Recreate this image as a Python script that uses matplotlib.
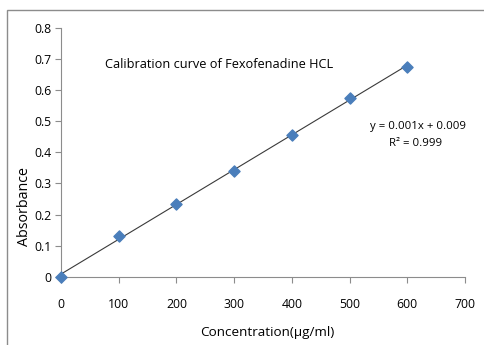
import numpy as np
import matplotlib.pyplot as plt
from matplotlib.patches import Rectangle

conc = [0, 100, 200, 300, 400, 500, 600]
absorbance = [0.0, 0.13, 0.235, 0.34, 0.455, 0.575, 0.675]
x_ticks = [0, 100, 200, 300, 400, 500, 600, 700]
y_ticks = [0, 0.1, 0.2, 0.3, 0.4, 0.5, 0.6, 0.7, 0.8]

plt.rcParams['font.family'] = ['Open Sans', 'DejaVu Sans']

fig = plt.figure(figsize=(4.85, 3.45), dpi=100)
# outer chart border (runs off the right and bottom edges)
fig.patches.append(Rectangle((7/485, -0.1), 1.2, 1 - 10/345 + 0.1, transform=fig.transFigure,
                             fill=False, edgecolor='#8c8c8c', linewidth=1))
ax = fig.add_axes([61/485, 1 - 276.7/345, 404/485, 248.7/345])

# linear trendline
slope, intercept = np.polyfit(conc, absorbance, 1)
xs = np.array([conc[0], conc[-1]])
ax.plot(xs, slope * xs + intercept, color='#3a3a3a', linewidth=0.8, zorder=2)
ax.scatter(conc, absorbance, marker='D', s=32, color='#4a7ebb', zorder=3, clip_on=False)

ax.set_xlim(0, 700)
ax.set_ylim(0, 0.8)
ax.set_xticks(x_ticks)
ax.set_yticks(y_ticks)
ax.set_yticklabels(['0', '0.1', '0.2', '0.3', '0.4', '0.5', '0.6', '0.7', '0.8'])
for s in ['top', 'right']:
    ax.spines[s].set_visible(False)
for s in ['left', 'bottom']:
    ax.spines[s].set_color('#8c8c8c')
    ax.spines[s].set_linewidth(0.8)
ax.tick_params(direction='out', length=4, width=0.8, color='#8c8c8c', labelsize=8.8, pad=3)
ax.tick_params(axis='x', pad=11)

ax.set_xlabel('Concentration(µg/ml)', fontsize=9.7)
ax.xaxis.set_label_coords(0.51, -0.2)
ax.set_ylabel('Absorbance', fontsize=10.3)
ax.yaxis.set_label_coords(-0.073, 0.284)

fig.text(105/485, 1 - 65/345, 'Calibration curve of Fexofenadine HCL', fontsize=9.2, va='center')
fig.text(418/485, 1 - 127/345, 'y = 0.001x + 0.009', fontsize=8.2, ha='center', va='center')
fig.text(416/485, 1 - 143/345, 'R² = 0.999', fontsize=8.2, ha='center', va='center')

fig.savefig('out.png', dpi=100)
